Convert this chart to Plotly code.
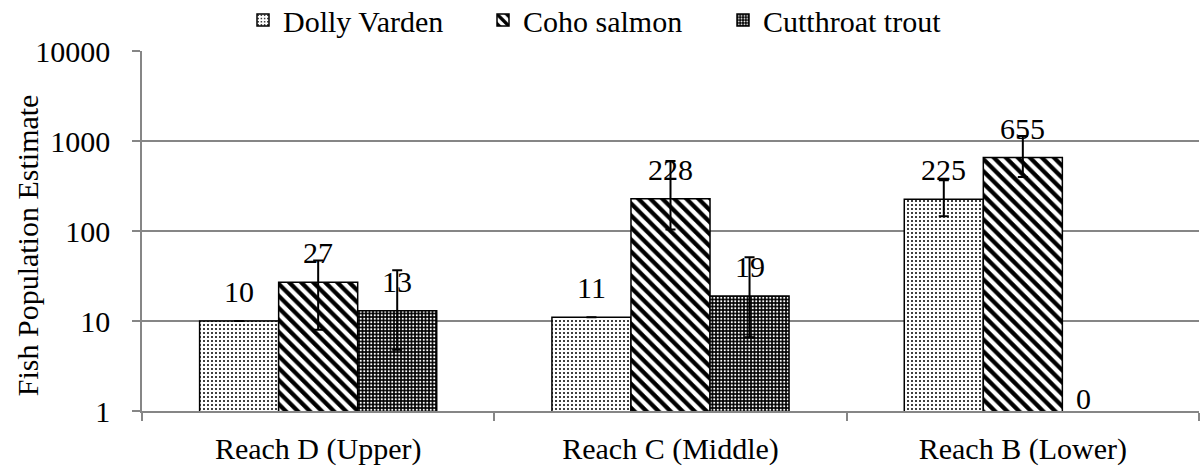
import math
import plotly.graph_objects as go

categories = ["Reach D (Upper)", "Reach C (Middle)", "Reach B (Lower)"]
series_names = ["Dolly Varden", "Coho salmon", "Cutthroat trout"]

dolly_values = [10, 11, 225]
coho_values = [27, 228, 655]
cutthroat_values = [13, 19, 0]

dolly_err_plus = [None, None, 141]
dolly_err_minus = [None, None, 79]
coho_err_plus = [20, 372, 481]
coho_err_minus = [19, 124, 257]
cutthroat_err_plus = [23.6, 32, None]
cutthroat_err_minus = [8.2, 12.4, None]

y_tick_vals = [1, 10, 100, 1000, 10000]
y_tick_text = ["1", "10", "100", "1000", "10000"]
y_title = "Fish Population Estimate"

FONT = "Liberation Serif"
GRID = "#868686"
BARGAP = 0.327

styles = [
    dict(shape=".", fgcolor="black", bgcolor="white", size=4, solidity=0.2),
    dict(shape="\\", fgcolor="black", bgcolor="white", size=8.5, solidity=0.5),
    dict(shape=".", fgcolor="white", bgcolor="black", size=3.5, solidity=0.3),
]

values = [dolly_values, coho_values, cutthroat_values]
plus = [dolly_err_plus, coho_err_plus, cutthroat_err_plus]
minus = [dolly_err_minus, coho_err_minus, cutthroat_err_minus]

fig = go.Figure()
for name, vals, ep, em, st in zip(series_names, values, plus, minus, styles):
    plot_vals = [v if v > 0 else None for v in vals]
    fig.add_trace(go.Bar(
        x=categories, y=plot_vals, name=name,
        marker=dict(color=st["bgcolor"], line=dict(color="black", width=1.5),
                    pattern=dict(shape=st["shape"], fgcolor=st["fgcolor"],
                                 bgcolor=st["bgcolor"], size=st["size"],
                                 solidity=st["solidity"], fillmode="replace")),
        error_y=dict(type="data", symmetric=False, array=ep, arrayminus=em,
                     color="black", thickness=2, width=5),
    ))

# data labels
bw = (1 - BARGAP) / len(series_names)
annotations = []
for j, vals in enumerate(values):
    for i, v in enumerate(vals):
        xpos = i + (j - (len(series_names) - 1) / 2) * bw
        ypos = math.log10(v) if v > 0 else 0
        annotations.append(dict(
            x=xpos, y=ypos, xref="x", yref="y", text=str(v), showarrow=False,
            yanchor="bottom", xanchor="center",
            yshift=11 if v > 0 else -6, xshift=0 if v > 0 else -18,
            font=dict(family=FONT, size=30, color="black"),
        ))

# y-axis title
annotations.append(dict(
    x=-0.108, y=0.46, xref="paper", yref="paper", text=y_title, showarrow=False,
    textangle=-90, xanchor="center", yanchor="middle",
    font=dict(family=FONT, size=30, color="black"),
))

fig.update_layout(
    width=1203, height=468,
    margin=dict(l=142, r=4, t=51, b=57, autoexpand=False),
    paper_bgcolor="white", plot_bgcolor="white",
    barmode="group", bargap=BARGAP, bargroupgap=0,
    font=dict(family=FONT, size=30, color="black"),
    showlegend=True,
    legend=dict(orientation="h", xref="container", yref="container",
                x=0.202, xanchor="left", y=0.957, yanchor="middle",
                font=dict(family=FONT, size=30, color="black"),
                entrywidth=195, entrywidthmode="pixels", traceorder="normal",
                bgcolor="rgba(0,0,0,0)"),
    annotations=annotations,
    xaxis=dict(type="category", range=[-0.5, 2.5], tickson="boundaries",
               ticks="outside", ticklen=8, tickcolor=GRID, tickwidth=1.5,
               showline=True, linecolor=GRID, linewidth=1.5, showgrid=False,
               automargin=False, ticklabelstandoff=10,
               tickfont=dict(family=FONT, size=30, color="black")),
    yaxis=dict(type="log", range=[0, 4], tickvals=y_tick_vals, ticktext=y_tick_text,
               ticks="outside", ticklen=8, tickcolor=GRID, tickwidth=1.5,
               showline=True, linecolor=GRID, linewidth=1.5,
               showgrid=True, gridcolor=GRID, gridwidth=1.5,
               zeroline=False, ticklabelstandoff=16, automargin=False,
               tickfont=dict(family=FONT, size=30, color="black")),
)

fig.write_html("out.html", config={"displayModeBar": False},
               post_script="document.body.style.margin='0';document.body.style.overflow='hidden';")
